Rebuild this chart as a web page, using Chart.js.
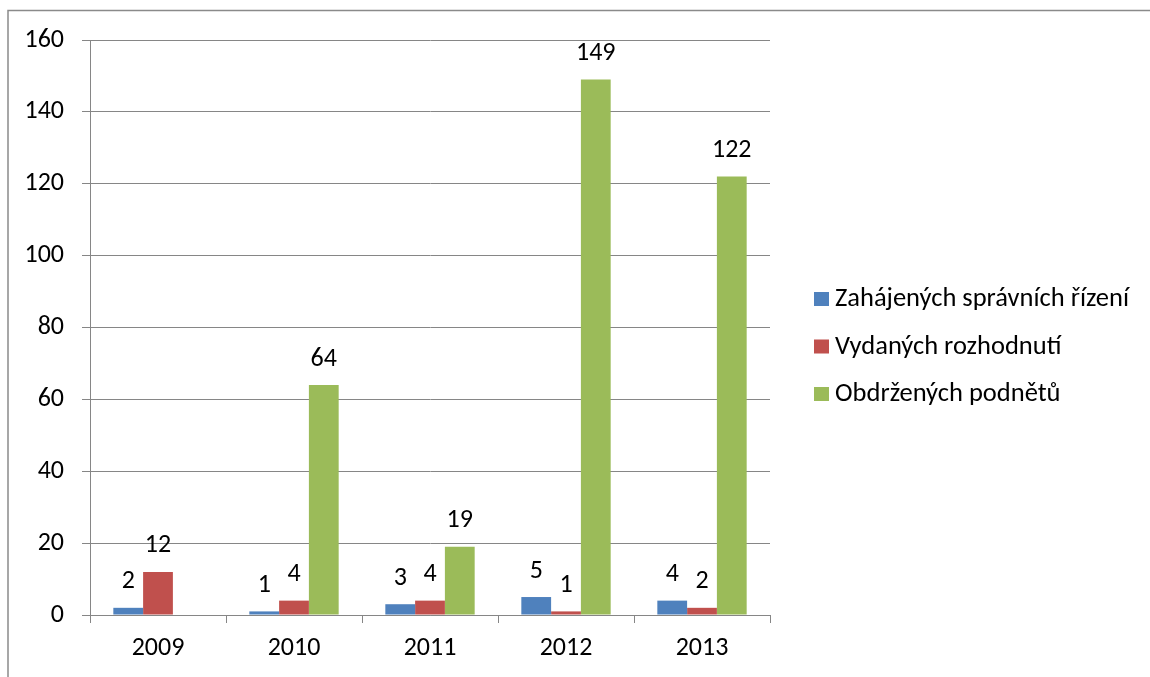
<!DOCTYPE html>
<html>
<head>
<meta charset="utf-8">
<script src="https://cdn.jsdelivr.net/npm/chart.js@4.4.1/dist/chart.umd.min.js"></script>
<style>
html,body{margin:0;padding:0;background:#fff;}
#wrap{width:1150px;height:677px;position:relative;}
</style>
</head>
<body>
<div id="wrap"><canvas id="c" width="1150" height="677"></canvas></div>
<script>
const categories = ['2009', '2010', '2011', '2012', '2013'];
const seriesNames = ['Zahájených správních řízení', 'Vydaných rozhodnutí', 'Obdržených podnětů'];
const zahajenych = [2, 1, 3, 5, 4];
const vydanych = [12, 4, 4, 1, 2];
const obdrzenych = [null, 64, 19, 149, 122];
const yTicks = [0, 20, 40, 60, 80, 100, 120, 140, 160];

const FONT = "Carlito, Calibri, 'Liberation Sans', Arial, sans-serif";
const FS = 26;
const LFS = 26.5;
const GRID = '#868686';
const colors = ['#4F81BD', '#C0504D', '#9BBB59'];

const borderPlugin = {
  id: 'outerBorder',
  beforeDraw(chart) {
    const ctx = chart.ctx;
    ctx.save();
    ctx.strokeStyle = '#8a8a8a';
    ctx.lineWidth = 1.5;
    ctx.strokeRect(8, 10.5, 1160, 700);
    ctx.restore();
  }
};

const labelPlugin = {
  id: 'valueLabels',
  afterDatasetsDraw(chart) {
    const ctx = chart.ctx;
    ctx.save();
    ctx.font = FS + 'px ' + FONT;
    ctx.fillStyle = '#000';
    ctx.textAlign = 'center';
    ctx.textBaseline = 'middle';
    chart.data.datasets.forEach((ds, i) => {
      const meta = chart.getDatasetMeta(i);
      meta.data.forEach((bar, j) => {
        const v = ds.data[j];
        if (v === null || v === undefined) return;
        ctx.fillText(String(v), bar.x, bar.y - 26);
      });
    });
    ctx.restore();
  }
};

const legendPlugin = {
  id: 'customLegend',
  afterDraw(chart) {
    const ctx = chart.ctx;
    ctx.save();
    ctx.font = LFS + 'px ' + FONT;
    ctx.textAlign = 'left';
    ctx.textBaseline = 'alphabetic';
    chart.data.datasets.forEach((ds, i) => {
      const base = 306 + i * 47.5;
      ctx.fillStyle = ds.backgroundColor;
      ctx.fillRect(814, base - 14, 15, 14);
      ctx.fillStyle = '#000';
      ctx.fillText(ds.label, 835, base);
    });
    ctx.restore();
  }
};

new Chart(document.getElementById('c'), {
  type: 'bar',
  data: {
    labels: categories,
    datasets: [
      { label: seriesNames[0], data: zahajenych, backgroundColor: colors[0] },
      { label: seriesNames[1], data: vydanych, backgroundColor: colors[1] },
      { label: seriesNames[2], data: obdrzenych, backgroundColor: colors[2] }
    ]
  },
  options: {
    responsive: false,
    animation: false,
    devicePixelRatio: 1,
    layout: { padding: { left: 0, top: 40, right: 380, bottom: 0 } },
    datasets: { bar: { categoryPercentage: 0.657, barPercentage: 1.0 } },
    plugins: { legend: { display: false }, tooltip: { enabled: false } },
    scales: {
      x: {
        offset: true,
        afterFit(s) { s.height = 62; },
        grid: { display: true, drawOnChartArea: false, drawTicks: true, tickLength: 8, color: GRID, offset: true },
        border: { display: true, color: GRID, width: 1 },
        ticks: { color: '#000', font: { family: FONT, size: FS }, padding: 10 }
      },
      y: {
        min: 0, max: 160,
        afterFit(s) { s.width = 90; },
        afterBuildTicks(s) { s.ticks = yTicks.map(v => ({ value: v })); },
        grid: { color: GRID, tickLength: 8, drawTicks: true },
        border: { display: true, color: GRID, width: 1 },
        ticks: { color: '#000', font: { family: FONT, size: FS }, padding: 18 }
      }
    }
  },
  plugins: [borderPlugin, labelPlugin, legendPlugin]
});
</script>
</body>
</html>
